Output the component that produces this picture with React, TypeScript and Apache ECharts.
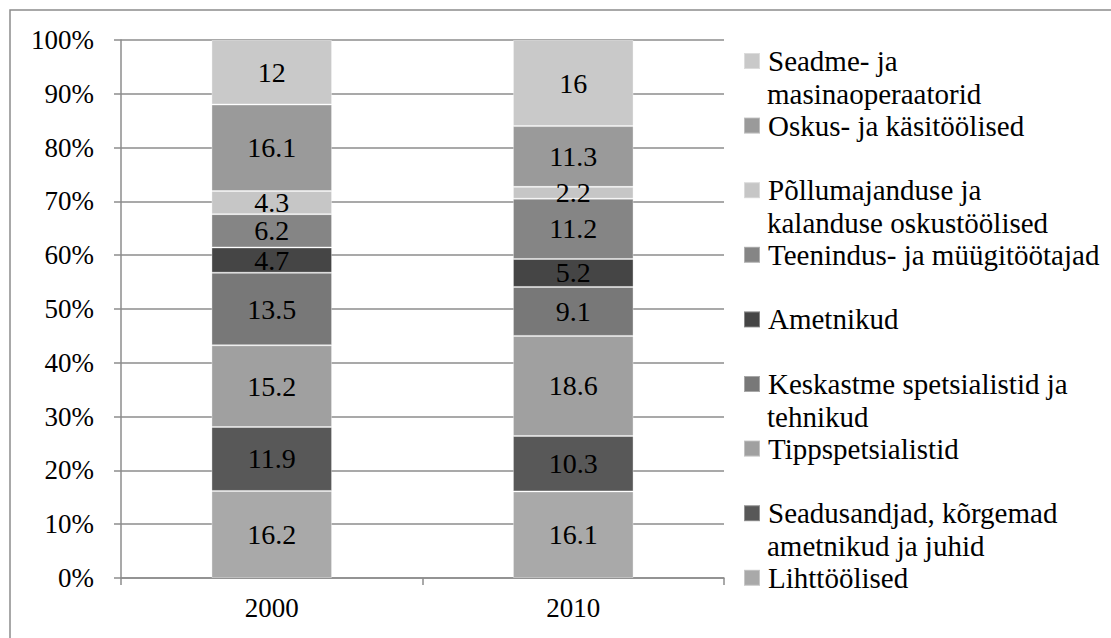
import React, { useEffect, useRef } from "react";
import * as echarts from "echarts";

const categories = ["2000", "2010"];

// bottom-to-top stacking order
const seriesNames = [
  "Lihttöölised",
  "Seadusandjad, kõrgemad ametnikud ja juhid",
  "Tippspetsialistid",
  "Keskastme spetsialistid ja tehnikud",
  "Ametnikud",
  "Teenindus- ja müügitöötajad",
  "Põllumajanduse ja kalanduse oskustöölised",
  "Oskus- ja käsitöölised",
  "Seadme- ja masinaoperaatorid",
];

const lihttoolised = [16.2, 16.1];
const seadusandjad = [11.9, 10.3];
const tippspetsialistid = [15.2, 18.6];
const keskastme = [13.5, 9.1];
const ametnikud = [4.7, 5.2];
const teenindus = [6.2, 11.2];
const pollumajandus = [4.3, 2.2];
const oskus = [16.1, 11.3];
const seadme = [12, 16];

const seriesValues = [
  lihttoolised,
  seadusandjad,
  tippspetsialistid,
  keskastme,
  ametnikud,
  teenindus,
  pollumajandus,
  oskus,
  seadme,
];

const seriesColors = [
  "#a9a9a9",
  "#585858",
  "#a0a0a0",
  "#787878",
  "#454545",
  "#858585",
  "#c6c6c6",
  "#9a9a9a",
  "#c9c9c9",
];

// legend layout: top-to-bottom order, first / second line
const legendLines: [string, string][] = [
  ["Seadme- ja", "masinaoperaatorid"],
  ["Oskus- ja käsitöölised", ""],
  ["Põllumajanduse ja", "kalanduse oskustöölised"],
  ["Teenindus- ja müügitöötajad", ""],
  ["Ametnikud", ""],
  ["Keskastme spetsialistid ja", "tehnikud"],
  ["Tippspetsialistid", ""],
  ["Seadusandjad, kõrgemad", "ametnikud ja juhid"],
  ["Lihttöölised", ""],
];

const yTicks = [0, 10, 20, 30, 40, 50, 60, 70, 80, 90, 100];

const FONT = "Liberation Serif";
const FS_AXIS = 27;
const FS_LABEL = 28;
const FS_LEGEND = 29;

export default function App() {
  const ref = useRef<HTMLDivElement>(null);
  useEffect(() => {
    if (!ref.current) return;
    const chart = echarts.init(ref.current, undefined, { renderer: "svg" });

    const totals = categories.map((_, ci) =>
      seriesValues.reduce((s, arr) => s + arr[ci], 0)
    );

    const legendNames = [...seriesNames].reverse();
    const firstY = 61;
    const stepY = 64.6;
    const legends = legendNames.map((name, i) => ({
      show: true,
      data: [name],
      left: 743,
      top: firstY + stepY * i - 14.5,
      padding: 0,
      itemWidth: 16,
      itemHeight: 16,
      itemGap: 0,
      selectedMode: false,
      icon: "rect",
      formatter: () => legendLines[i][0],
      textStyle: {
        fontFamily: FONT,
        fontSize: FS_LEGEND,
        color: "#000",
        padding: [0, 0, 0, 3],
      },
    }));

    const graphics: any[] = [
      {
        type: "rect",
        shape: { x: 10, y: 10, width: 1300, height: 900 },
        style: { fill: "none", stroke: "#8c8c8c", lineWidth: 1.5 },
        silent: true,
      },
    ];
    legendLines.forEach((ln, i) => {
      if (ln[1]) {
        graphics.push({
          type: "text",
          x: 767,
          y: firstY + stepY * i + 33,
          style: {
            text: ln[1],
            fontFamily: FONT,
            fontSize: FS_LEGEND,
            fill: "#000",
            textVerticalAlign: "middle",
          },
        });
      }
    });

    chart.setOption({
      animation: false,
      textStyle: { fontFamily: FONT },
      grid: { left: 121, right: 387, top: 40, bottom: 60, containLabel: false },
      legend: legends,
      graphic: graphics,
      xAxis: {
        type: "category",
        data: categories,
        axisLine: { lineStyle: { color: "#8c8c8c", width: 1.5 } },
        axisTick: { show: true, length: 7, lineStyle: { color: "#8c8c8c", width: 1.5 } },
        axisLabel: { fontFamily: FONT, fontSize: FS_AXIS, color: "#000", margin: 16 },
      },
      yAxis: {
        type: "value",
        min: yTicks[0],
        max: yTicks[yTicks.length - 1],
        interval: 10,
        axisLine: { show: true, lineStyle: { color: "#8c8c8c", width: 1.5 } },
        axisTick: { show: true, length: 7, lineStyle: { color: "#8c8c8c", width: 1.5 } },
        splitLine: { show: true, lineStyle: { color: "#8c8c8c", width: 1.5 } },
        axisLabel: {
          fontFamily: FONT,
          fontSize: FS_AXIS,
          color: "#000",
          margin: 27,
          formatter: "{value}%",
        },
      },
      series: seriesNames.map((name, si) => ({
        name,
        type: "bar",
        stack: "total",
        barWidth: "40%",
        clip: false,
        itemStyle: {
          color: seriesColors[si],
          borderColor: "rgba(255,255,255,0.35)",
          borderWidth: 1,
        },
        label: {
          show: true,
          position: "inside",
          fontFamily: FONT,
          fontSize: FS_LABEL,
          color: "#000",
          formatter: (p: any) => String(seriesValues[si][p.dataIndex]),
        },
        data: seriesValues[si].map((v, ci) => (v / totals[ci]) * 100),
      })),
    });
    return () => chart.dispose();
  }, []);
  return (
    <div
      ref={ref}
      style={{ position: "fixed", left: 0, top: 0, width: 1111, height: 638, background: "#fff" }}
    />
  );
}
